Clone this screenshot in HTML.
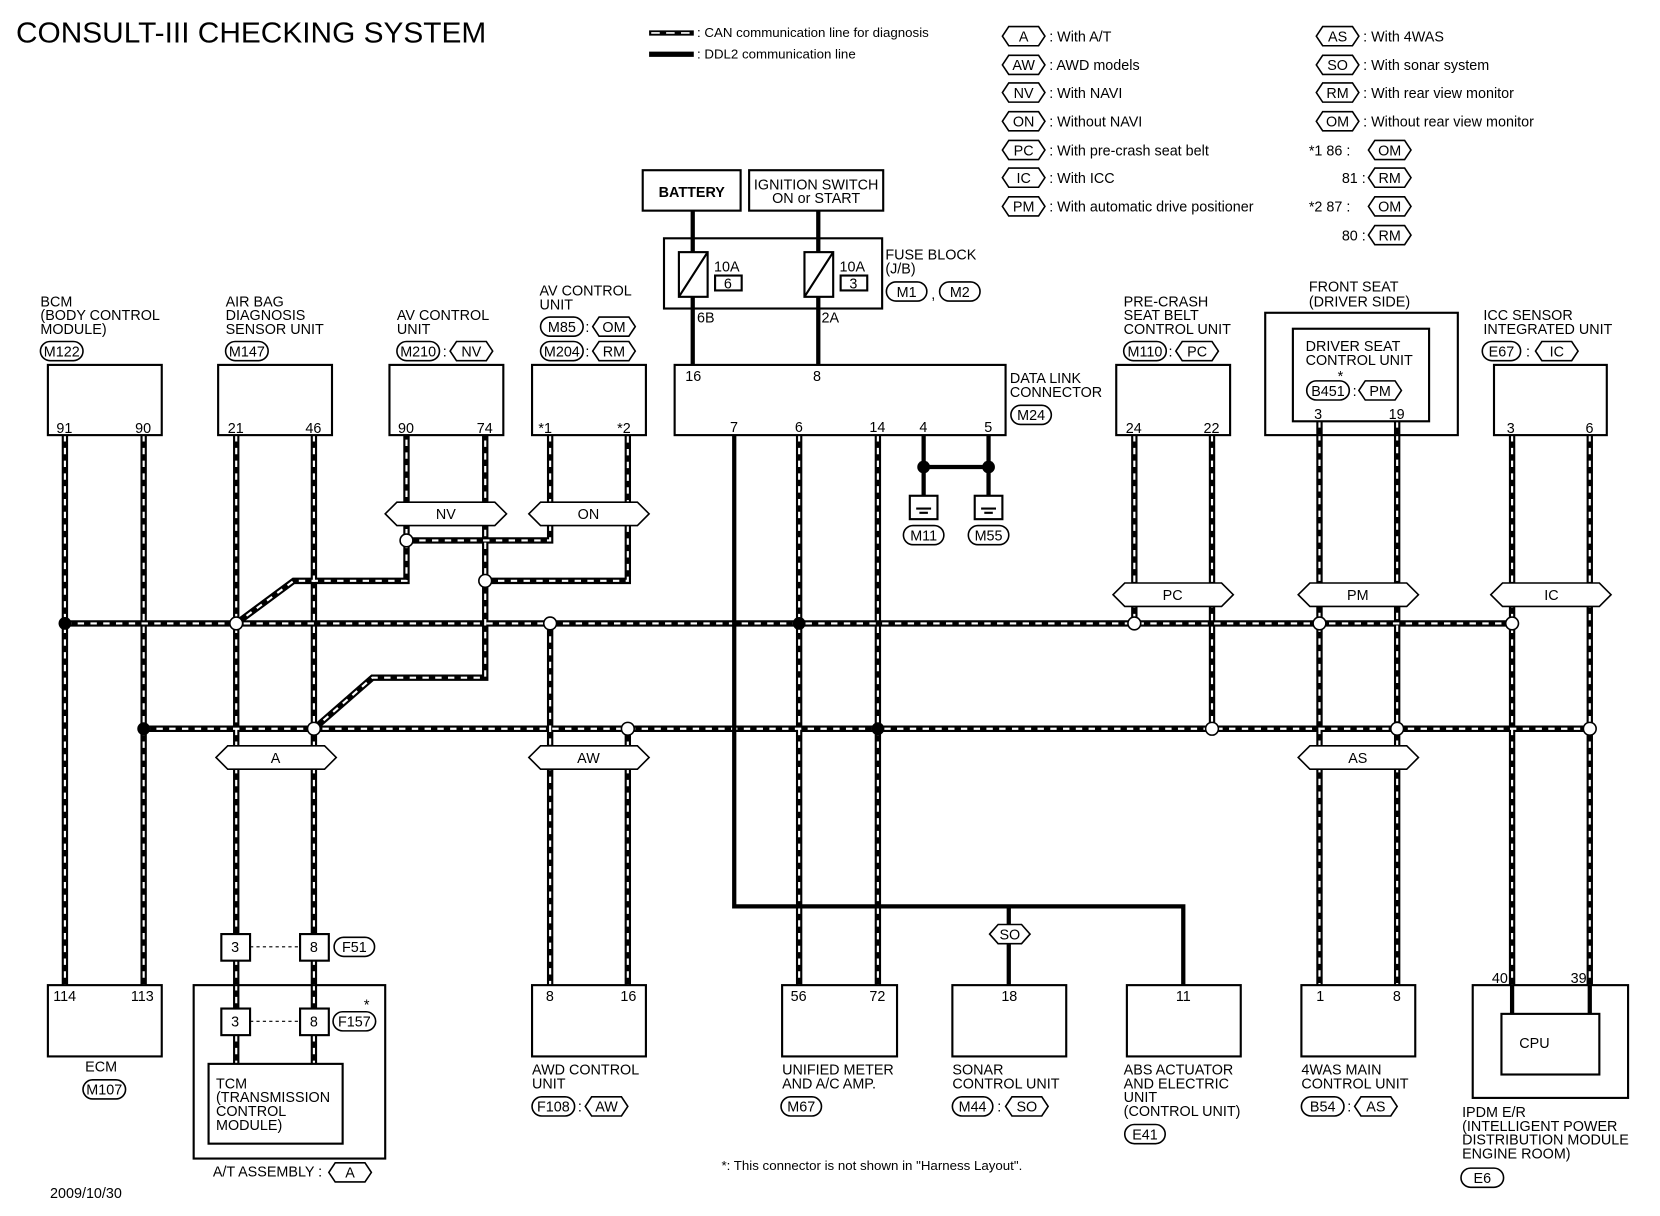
<!DOCTYPE html>
<html><head><meta charset="utf-8"><style>
html,body{margin:0;padding:0;background:#fff;}
svg{display:block;}
text{font-family:"Liberation Sans",sans-serif;font-size:13.5px;fill:#000;}
.t{font-size:12.5px;}
</style></head><body>
<svg width="1660" height="1216" viewBox="0 0 1560 1143" preserveAspectRatio="none" xmlns="http://www.w3.org/2000/svg">
<defs>
<g id="can">
<path d="M61 586H1421"/>
<path d="M135 685H1494"/>
<path d="M61 409V926"/><path d="M135 409V926"/>
<path d="M222 409V1000"/><path d="M295 409V1000"/>
<path d="M222 586L276 546H382V409"/>
<path d="M295 685L350 637H456V409"/>
<path d="M382 508H517V409"/>
<path d="M456 546H590V409"/>
<path d="M517 586V926"/><path d="M590 685V926"/>
<path d="M751 409V926"/><path d="M825 409V926"/>
<path d="M1066 409V586"/><path d="M1139 409V685"/>
<path d="M1240 396V926"/><path d="M1313 396V926"/>
<path d="M1421 409V926"/><path d="M1494 409V926"/>
</g>
</defs>
<use href="#can" stroke="#000" stroke-width="6" fill="none"/>
<use href="#can" stroke="#fff" stroke-width="2" stroke-dasharray="6 6" fill="none"/>

<g fill="none" stroke="#000" stroke-width="4">
<path d="M651 198V343"/><path d="M769 198V343"/>
<path d="M690 409V852H1112V926"/><path d="M948 852V926"/>
<path d="M868 409V466"/><path d="M929 409V466"/><path d="M868 439H929"/>
<path d="M1421 926V953"/><path d="M1494 926V953"/>
</g>
<g stroke="#000" stroke-width="2" fill="#fff">
<rect x="604" y="160" width="92" height="38"/>
<rect x="704" y="160" width="126" height="38"/>
<rect x="624" y="224" width="205" height="66" fill="none"/>
<rect x="638" y="237" width="27" height="42"/><rect x="756" y="237" width="27" height="42"/>
<rect x="672" y="259" width="25" height="14"/><rect x="790" y="259" width="25" height="14"/>
<rect x="634" y="343" width="311" height="66" fill="none"/>
<rect x="45" y="343" width="107" height="66" fill="none"/>
<rect x="205" y="343" width="107" height="66" fill="none"/>
<rect x="366" y="343" width="107" height="66" fill="none"/>
<rect x="500" y="343" width="107" height="66" fill="none"/>
<rect x="1049" y="343" width="107" height="66" fill="none"/>
<rect x="1189" y="294" width="181" height="115" fill="none"/>
<rect x="1215" y="309" width="128" height="87" fill="none"/>
<rect x="1404" y="343" width="106" height="66" fill="none"/>
<rect x="45" y="926" width="107" height="67" fill="none"/>
<rect x="182" y="926" width="180" height="163" fill="none"/>
<rect x="196" y="1000" width="126" height="75"/>
<rect x="208" y="878" width="27" height="25"/><rect x="282" y="878" width="27" height="25"/>
<rect x="208" y="948" width="27" height="25"/><rect x="282" y="948" width="27" height="25"/>
<rect x="500" y="926" width="107" height="67" fill="none"/>
<rect x="735" y="926" width="108" height="67" fill="none"/>
<rect x="895" y="926" width="107" height="67" fill="none"/>
<rect x="1059" y="926" width="107" height="67" fill="none"/>
<rect x="1223" y="926" width="107" height="67" fill="none"/>
<rect x="1384" y="926" width="146" height="106" fill="none"/>
<rect x="1411" y="953" width="92" height="57"/>
<rect x="855" y="466" width="26" height="22"/><rect x="916" y="466" width="26" height="22"/>
</g>
<g stroke="#000" stroke-width="2" fill="none">
<path d="M638 279L665 237M756 279L783 237"/>
<path d="M861 478h14M864 482h8M922 478h14M925 482h8"/>
<path d="M235 890H282M235 960H282" stroke-width="1" stroke-dasharray="3 3"/>
<path d="M610 31H652M610 51H652" stroke-width="5"/>
</g>
<path d="M612 31H650" stroke="#fff" stroke-width="1.5" stroke-dasharray="8 6"/>
<g fill="#000"><circle cx="61" cy="586" r="6"/><circle cx="751" cy="586" r="6"/><circle cx="135" cy="685" r="6"/><circle cx="825" cy="685" r="6"/><circle cx="868" cy="439" r="6"/><circle cx="929" cy="439" r="6"/></g>
<g fill="#fff" stroke="#000" stroke-width="1.5">
<circle cx="222" cy="586" r="6"/><circle cx="517" cy="586" r="6"/><circle cx="1066" cy="586" r="6"/><circle cx="1240" cy="586" r="6"/><circle cx="1421" cy="586" r="6"/>
<circle cx="295" cy="685" r="6"/><circle cx="590" cy="685" r="6"/><circle cx="1139" cy="685" r="6"/><circle cx="1313" cy="685" r="6"/><circle cx="1494" cy="685" r="6"/>
<circle cx="382" cy="508" r="6"/><circle cx="456" cy="546" r="6"/>
</g>
<g fill="#fff" stroke="#000" stroke-width="1.5">
<polygon points="362,483 373,472 465,472 476,483 465,494 373,494"/>
<polygon points="497,483 508,472 599,472 610,483 599,494 508,494"/>
<polygon points="1046,559 1057,548 1148,548 1159,559 1148,570 1057,570"/>
<polygon points="1220,559 1231,548 1322,548 1333,559 1322,570 1231,570"/>
<polygon points="1401,559 1412,548 1503,548 1514,559 1503,570 1412,570"/>
<polygon points="203,712 214,701 305,701 316,712 305,723 214,723"/>
<polygon points="497,712 508,701 599,701 610,712 599,723 508,723"/>
<polygon points="1220,712 1231,701 1322,701 1333,712 1322,723 1231,723"/>
<polygon points="930,878 938,869 960,869 968,878 960,887 938,887"/>
</g>
<g text-anchor="middle">
<text x="419" y="488">NV</text><text x="553" y="488">ON</text>
<text x="1102" y="564">PC</text><text x="1276" y="564">PM</text><text x="1458" y="564">IC</text>
<text x="259" y="717">A</text><text x="553" y="717">AW</text><text x="1276" y="717">AS</text>
<text x="949" y="883">SO</text>
</g>
<g fill="#fff" stroke="#000" stroke-width="1.5">
<polygon points="942,34 948,25 976,25 982,34 976,43 948,43"/>
<polygon points="942,61 948,52 976,52 982,61 976,70 948,70"/>
<polygon points="942,87 948,78 976,78 982,87 976,96 948,96"/>
<polygon points="942,114 948,105 976,105 982,114 976,123 948,123"/>
<polygon points="942,141 948,132 976,132 982,141 976,150 948,150"/>
<polygon points="942,167 948,158 976,158 982,167 976,176 948,176"/>
<polygon points="942,194 948,185 976,185 982,194 976,203 948,203"/>
<polygon points="1237,34 1243,25 1271,25 1277,34 1271,43 1243,43"/>
<polygon points="1237,61 1243,52 1271,52 1277,61 1271,70 1243,70"/>
<polygon points="1237,87 1243,78 1271,78 1277,87 1271,96 1243,96"/>
<polygon points="1237,114 1243,105 1271,105 1277,114 1271,123 1243,123"/>
<polygon points="1286,141 1292,132 1320,132 1326,141 1320,150 1292,150"/>
<polygon points="1286,167 1292,158 1320,158 1326,167 1320,176 1292,176"/>
<polygon points="1286,194 1292,185 1320,185 1326,194 1320,203 1292,203"/>
<polygon points="1286,221 1292,212 1320,212 1326,221 1320,230 1292,230"/>
<polygon points="423,330 429,321 457,321 463,330 457,339 429,339"/>
<polygon points="557,307 563,298 591,298 597,307 591,316 563,316"/>
<polygon points="557,330 563,321 591,321 597,330 591,339 563,339"/>
<polygon points="1105,330 1111,321 1139,321 1145,330 1139,339 1111,339"/>
<polygon points="1277,367 1283,358 1311,358 1317,367 1311,376 1283,376"/>
<polygon points="1443,330 1449,321 1477,321 1483,330 1477,339 1449,339"/>
<polygon points="550,1040 556,1031 584,1031 590,1040 584,1049 556,1049"/>
<polygon points="945,1040 951,1031 979,1031 985,1040 979,1049 951,1049"/>
<polygon points="1273,1040 1279,1031 1307,1031 1313,1040 1307,1049 1279,1049"/>
<polygon points="309,1102 315,1093 343,1093 349,1102 343,1111 315,1111"/>
<rect x="833" y="265" width="38" height="18" rx="9"/><rect x="883" y="265" width="38" height="18" rx="9"/>
<rect x="950" y="381" width="38" height="18" rx="9"/>
<rect x="849" y="494" width="38" height="18" rx="9"/><rect x="910" y="494" width="38" height="18" rx="9"/>
<rect x="38" y="321" width="40" height="18" rx="9"/>
<rect x="212" y="321" width="40" height="18" rx="9"/>
<rect x="373" y="321" width="40" height="18" rx="9"/>
<rect x="508" y="298" width="40" height="18" rx="9"/>
<rect x="508" y="321" width="40" height="18" rx="9"/>
<rect x="1056" y="321" width="40" height="18" rx="9"/>
<rect x="1228" y="358" width="40" height="18" rx="9"/>
<rect x="1393" y="321" width="36" height="18" rx="9"/>
<rect x="78" y="1015" width="40" height="18" rx="9"/>
<rect x="314" y="881" width="38" height="18" rx="9"/>
<rect x="313" y="951" width="40" height="18" rx="9"/>
<rect x="500" y="1031" width="40" height="18" rx="9"/>
<rect x="734" y="1031" width="38" height="18" rx="9"/>
<rect x="895" y="1031" width="38" height="18" rx="9"/>
<rect x="1057" y="1057" width="38" height="18" rx="9"/>
<rect x="1223" y="1031" width="40" height="18" rx="9"/>
<rect x="1373" y="1098" width="40" height="18" rx="9"/>
</g>
<g text-anchor="middle" class="t">
<text x="962" y="39">A</text><text x="962" y="66">AW</text><text x="962" y="92">NV</text><text x="962" y="119">ON</text><text x="962" y="146">PC</text><text x="962" y="172">IC</text><text x="962" y="199">PM</text>
<text x="1257" y="39">AS</text><text x="1257" y="66">SO</text><text x="1257" y="92">RM</text><text x="1257" y="119">OM</text>
<text x="1306" y="146">OM</text><text x="1306" y="172">RM</text><text x="1306" y="199">OM</text><text x="1306" y="226">RM</text>
<text x="443" y="335">NV</text><text x="577" y="312">OM</text><text x="577" y="335">RM</text><text x="1125" y="335">PC</text><text x="1297" y="372">PM</text><text x="1463" y="335">IC</text>
<text x="570" y="1045">AW</text><text x="965" y="1045">SO</text><text x="1293" y="1045">AS</text><text x="329" y="1107">A</text>
<text x="852" y="279">M1</text><text x="902" y="279">M2</text><text x="969" y="395">M24</text><text x="868" y="508">M11</text><text x="929" y="508">M55</text>
<text x="58" y="335">M122</text><text x="232" y="335">M147</text><text x="393" y="335">M210</text><text x="528" y="312">M85</text><text x="528" y="335">M204</text>
<text x="1076" y="335">M110</text><text x="1248" y="372">B451</text><text x="1411" y="335">E67</text>
<text x="98" y="1029">M107</text><text x="333" y="895">F51</text><text x="333" y="965">F157</text><text x="520" y="1045">F108</text><text x="753" y="1045">M67</text><text x="914" y="1045">M44</text><text x="1076" y="1071">E41</text><text x="1243" y="1045">B54</text><text x="1393" y="1112">E6</text>
<text x="221" y="895">3</text><text x="295" y="895">8</text><text x="221" y="965">3</text><text x="295" y="965">8</text>
<text x="684" y="271">6</text><text x="802" y="271">3</text>
<text x="418" y="335">:</text><text x="552" y="312">:</text><text x="552" y="335">:</text><text x="1100" y="335">:</text><text x="1273" y="372">:</text><text x="1436" y="335">:</text>
<text x="545" y="1045">:</text><text x="939" y="1045">:</text><text x="1268" y="1045">:</text><text x="877" y="281">,</text>
</g>
<text x="15" y="40" style="font-size:27px" textLength="442" lengthAdjust="spacingAndGlyphs">CONSULT-III CHECKING SYSTEM</text>
<text x="655" y="35" class="t">: CAN communication line for diagnosis</text>
<text x="655" y="55" class="t">: DDL2 communication line</text>
<g class="t">
<text x="986" y="39">: With A/T</text><text x="986" y="66">: AWD models</text><text x="986" y="92">: With NAVI</text><text x="986" y="119">: Without NAVI</text><text x="986" y="146">: With pre-crash seat belt</text><text x="986" y="172">: With ICC</text><text x="986" y="199">: With automatic drive positioner</text>
<text x="1281" y="39">: With 4WAS</text><text x="1281" y="66">: With sonar system</text><text x="1281" y="92">: With rear view monitor</text><text x="1281" y="119">: Without rear view monitor</text>
<text x="1230" y="146">*1  86 :</text><text x="1261" y="172">81 :</text><text x="1230" y="199">*2  87 :</text><text x="1261" y="226">80 :</text>
</g>
<text x="619" y="185" style="font-weight:bold">BATTERY</text>
<text x="767" y="178" text-anchor="middle">IGNITION SWITCH</text>
<text x="767" y="191" text-anchor="middle">ON or START</text>
<text x="671" y="255">10A</text><text x="789" y="255">10A</text>
<text x="832" y="244">FUSE BLOCK</text><text x="832" y="257">(J/B)</text>
<text x="655" y="303">6B</text><text x="772" y="303">2A</text>
<text x="644" y="358">16</text><text x="764" y="358">8</text>
<text x="686" y="406">7</text><text x="747" y="406">6</text><text x="817" y="406">14</text><text x="864" y="406">4</text><text x="925" y="406">5</text>
<text x="949" y="360">DATA LINK</text><text x="949" y="373">CONNECTOR</text>
<text x="38" y="288">BCM</text><text x="38" y="301">(BODY CONTROL</text><text x="38" y="314"> MODULE)</text>
<text x="212" y="288">AIR BAG</text><text x="212" y="301">DIAGNOSIS</text><text x="212" y="314">SENSOR UNIT</text>
<text x="373" y="301">AV CONTROL</text><text x="373" y="314">UNIT</text>
<text x="507" y="278">AV CONTROL</text><text x="507" y="291">UNIT</text>
<text x="1056" y="288">PRE-CRASH</text><text x="1056" y="301">SEAT BELT</text><text x="1056" y="314">CONTROL UNIT</text>
<text x="1230" y="274">FRONT SEAT</text><text x="1230" y="288">(DRIVER SIDE)</text>
<text x="1227" y="330">DRIVER SEAT</text><text x="1227" y="343">CONTROL UNIT</text><text x="1257" y="358">*</text>
<text x="1394" y="301">ICC SENSOR</text><text x="1394" y="314">INTEGRATED UNIT</text>
<g class="t">
<text x="53" y="407">91</text><text x="127" y="407">90</text>
<text x="214" y="407">21</text><text x="287" y="407">46</text>
<text x="374" y="407">90</text><text x="448" y="407">74</text>
<text x="506" y="407">*1</text><text x="580" y="407">*2</text>
<text x="1058" y="407">24</text><text x="1131" y="407">22</text>
<text x="1235" y="394">3</text><text x="1305" y="394">19</text>
<text x="1416" y="407">3</text><text x="1490" y="407">6</text>
<text x="50" y="941">114</text><text x="123" y="941">113</text>
<text x="513" y="941">8</text><text x="583" y="941">16</text>
<text x="743" y="941">56</text><text x="817" y="941">72</text>
<text x="941" y="941">18</text><text x="1105" y="941">11</text>
<text x="1237" y="941">1</text><text x="1309" y="941">8</text>
<text x="1402" y="924">40</text><text x="1476" y="924">39</text>
</g>
<text x="342" y="949">*</text>
<text x="80" y="1007">ECM</text>
<text x="203" y="1023">TCM</text><text x="203" y="1036">(TRANSMISSION</text><text x="203" y="1049"> CONTROL</text><text x="203" y="1062"> MODULE)</text>
<text x="200" y="1106">A/T ASSEMBLY :</text>
<text x="500" y="1010">AWD CONTROL</text><text x="500" y="1023">UNIT</text>
<text x="735" y="1010">UNIFIED METER</text><text x="735" y="1023">AND A/C AMP.</text>
<text x="895" y="1010">SONAR</text><text x="895" y="1023">CONTROL UNIT</text>
<text x="1056" y="1010">ABS ACTUATOR</text><text x="1056" y="1023">AND ELECTRIC</text><text x="1056" y="1036">UNIT</text><text x="1056" y="1049">(CONTROL UNIT)</text>
<text x="1223" y="1010">4WAS MAIN</text><text x="1223" y="1023">CONTROL UNIT</text>
<text x="1442" y="985" text-anchor="middle">CPU</text>
<text x="1374" y="1050">IPDM E/R</text><text x="1374" y="1063">(INTELLIGENT POWER</text><text x="1374" y="1076"> DISTRIBUTION MODULE</text><text x="1374" y="1089"> ENGINE ROOM)</text>
<text x="678" y="1100" class="t">*: This connector is not shown in "Harness Layout".</text>
<text x="47" y="1126">2009/10/30</text>
</svg>
</body></html>
